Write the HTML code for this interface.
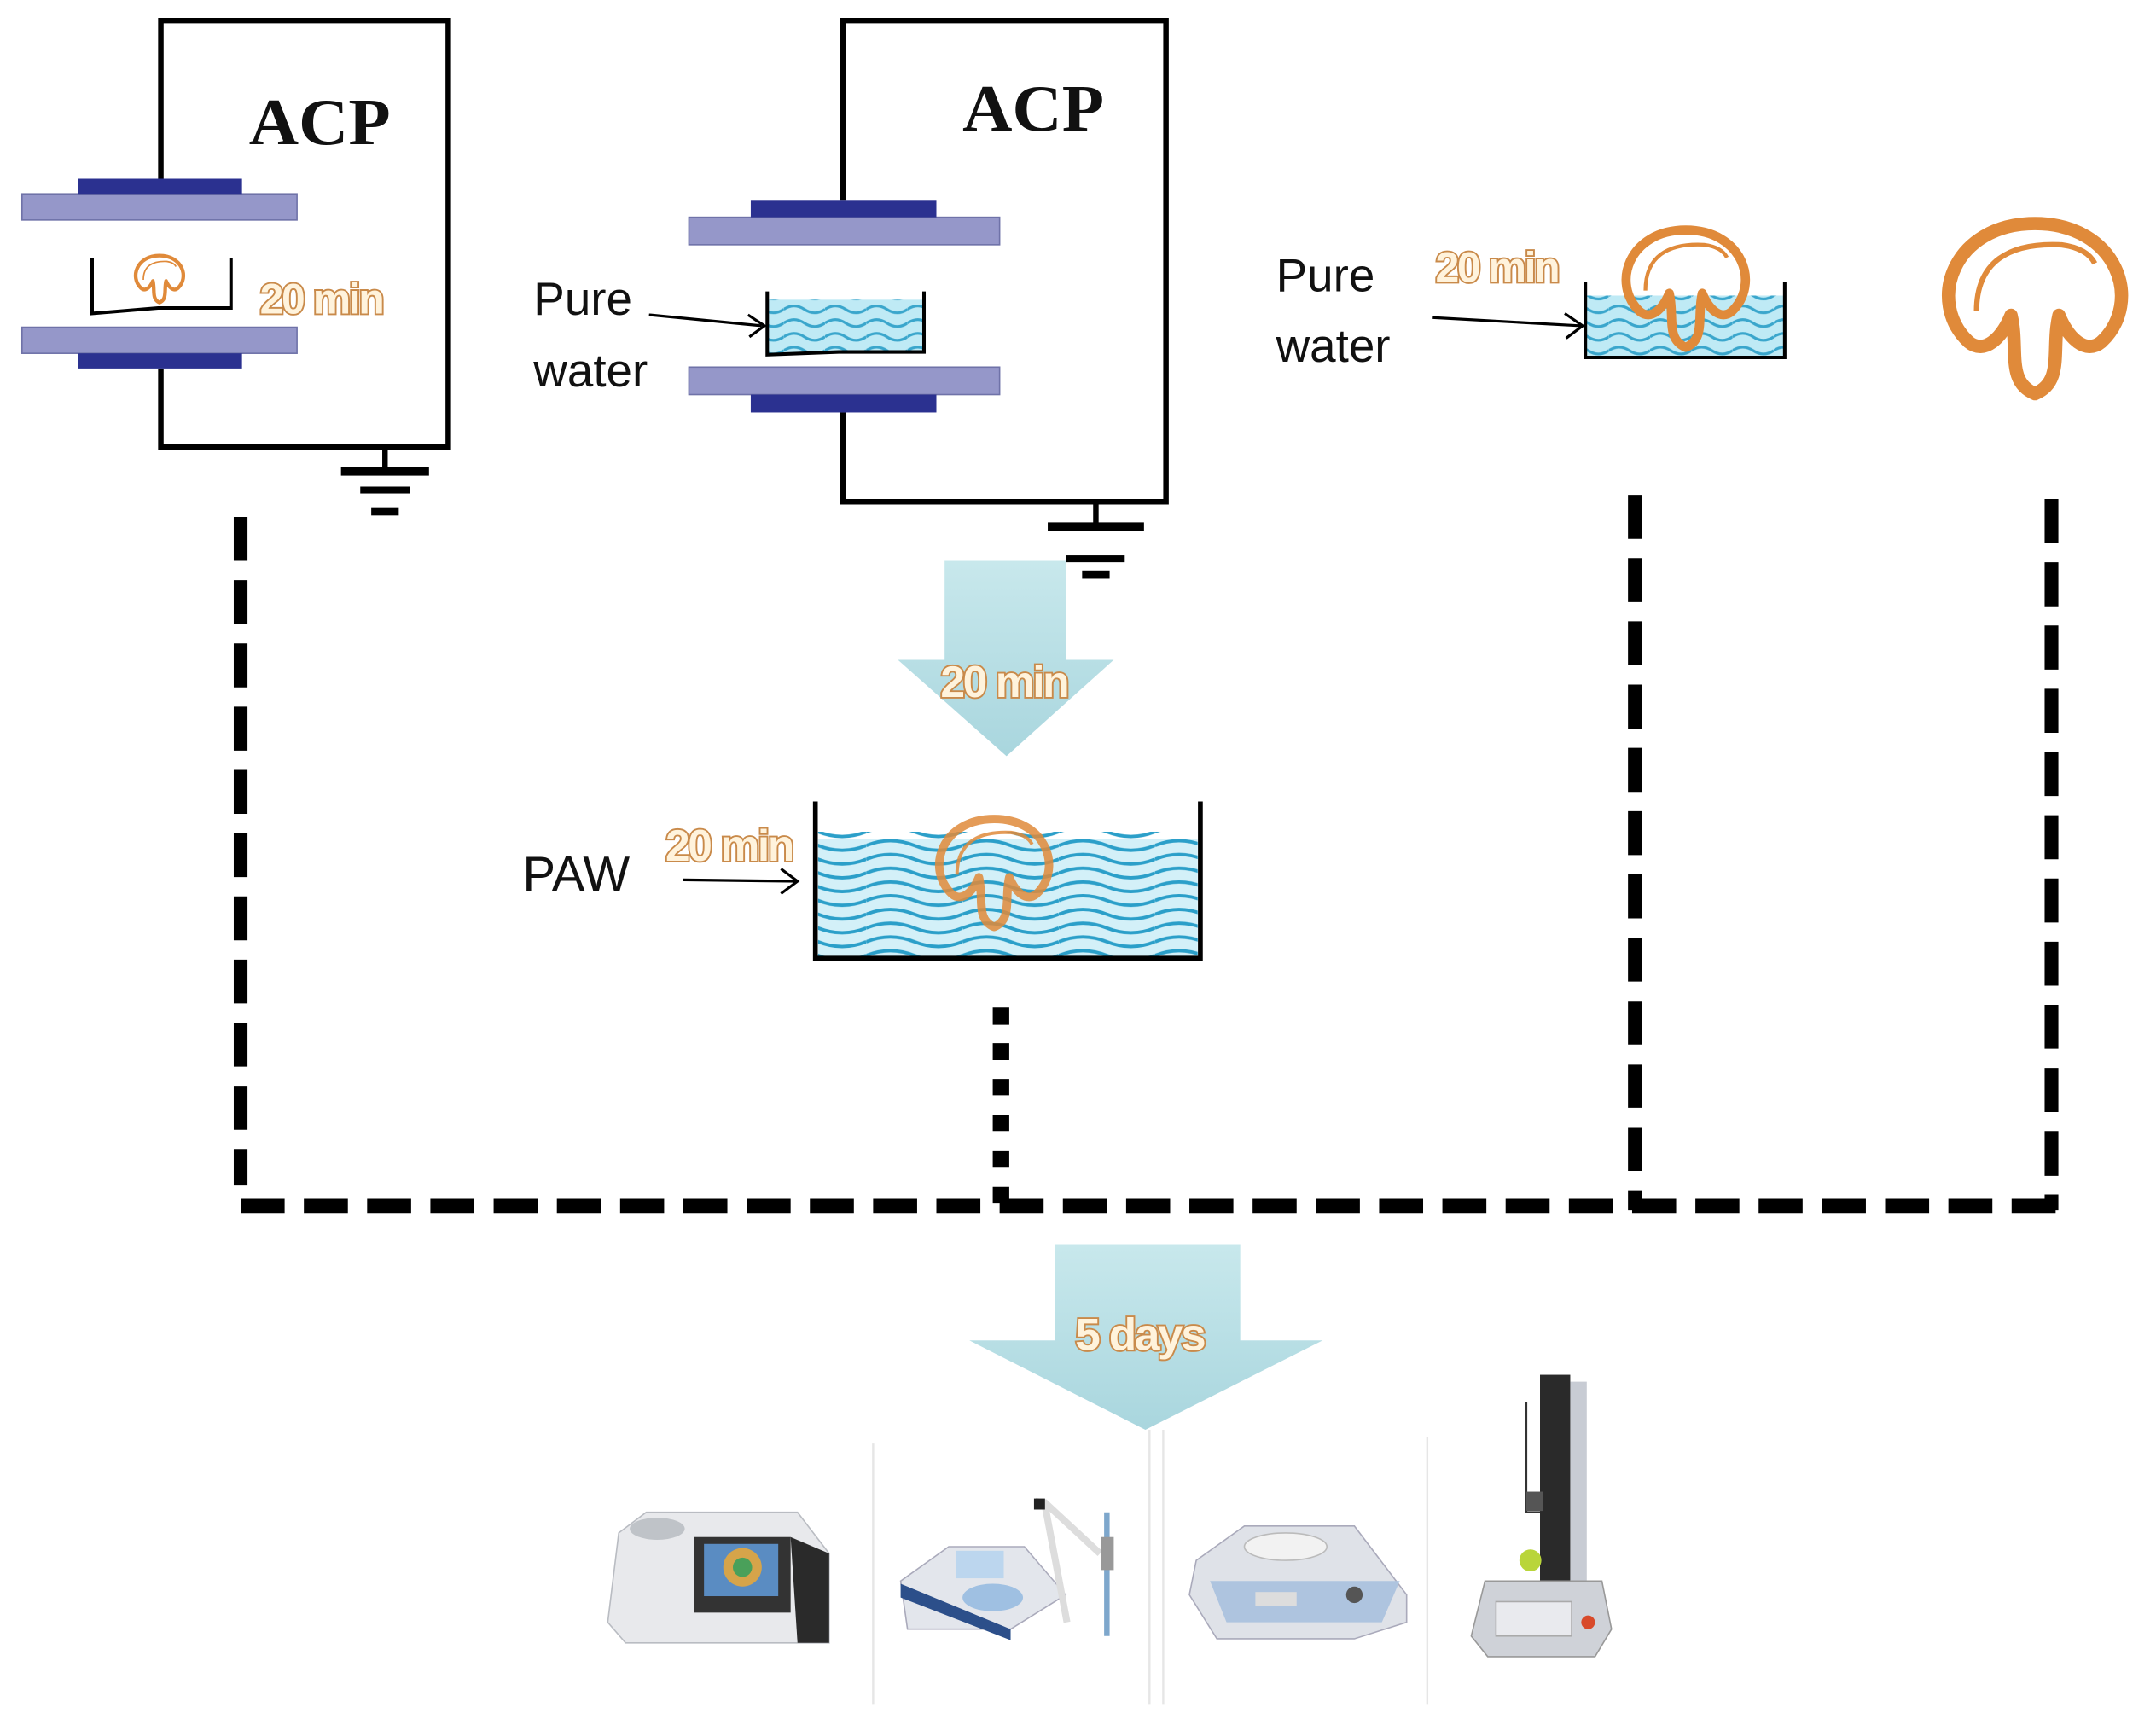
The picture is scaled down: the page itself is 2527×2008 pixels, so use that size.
<!DOCTYPE html>
<html><head><meta charset="utf-8"><style>
html,body{margin:0;padding:0;background:#fff}
svg{display:block}
.lbl{font-family:"Liberation Sans",sans-serif;fill:#111}
.acp{font-family:"Liberation Serif",serif;fill:#111;font-weight:bold}
.tm{font-family:"Liberation Sans",sans-serif;font-weight:bold;fill:#fff3dc;stroke:#c98a4a;stroke-width:2.4;paint-order:stroke;letter-spacing:-1.5px}
</style></head><body>
<svg width="2527" height="2008" viewBox="0 0 1568 1246" preserveAspectRatio="none" xmlns="http://www.w3.org/2000/svg">
<defs>
<symbol id="mush" viewBox="-75 -75 150 150" overflow="visible">
<path d="M -50,25 C -82,-5 -62,-64 0,-64 C 62,-64 82,-5 50,25 C 38,35 25,22 18,5 C 12,30 22,55 0,64 C -22,55 -12,30 -18,5 C -25,22 -38,35 -50,25 Z" fill="none" stroke="#e08a3a" stroke-width="10" stroke-linejoin="round"/>
<path d="M -44,2 C -44,-35 -20,-50 20,-48 C 35,-46 42,-40 45,-34" fill="none" stroke="#e08a3a" stroke-width="4"/>
</symbol>
<pattern id="wv" width="30" height="10" patternUnits="userSpaceOnUse">
<path d="M0,5 Q7.5,0 15,5 T30,5" fill="none" stroke="#3aa6cc" stroke-width="2"/>
</pattern>
<pattern id="wv2" width="70" height="10" patternUnits="userSpaceOnUse">
<path d="M0,5 Q17.5,-2 35,5 T70,5" fill="none" stroke="#2b9fc9" stroke-width="2.4"/>
</pattern>
<linearGradient id="ag" x1="0" y1="0" x2="0" y2="1">
<stop offset="0" stop-color="#c8e8ec"/><stop offset="1" stop-color="#a9d6de"/>
</linearGradient>
</defs>

<!-- Left ACP -->
<path d="M117,132 V15 H326 V325 H117 V268" fill="none" stroke="#000" stroke-width="4"/>
<rect x="16" y="141" width="200" height="19" fill="#9597c9" stroke="#6f72a8" stroke-width="1"/>
<rect x="57" y="130" width="119" height="11" fill="#2b3190"/>
<rect x="16" y="238" width="200" height="19" fill="#9597c9" stroke="#6f72a8" stroke-width="1"/>
<rect x="57" y="257" width="119" height="11" fill="#2b3190"/>
<path d="M67,188 V228 L115,224 H168 V188" fill="none" stroke="#000" stroke-width="2.5"/>
<use href="#mush" x="96" y="181" width="40" height="44"/>
<text class="tm" x="189" y="228" font-size="31">20 min</text>
<text class="acp" x="181" y="105" font-size="48" textLength="103" lengthAdjust="spacingAndGlyphs">ACP</text>
<path d="M280,325 V343" stroke="#000" stroke-width="4"/>
<rect x="248" y="340" width="64" height="6" fill="#000"/>
<rect x="262" y="354" width="36" height="5" fill="#000"/>
<rect x="270" y="369" width="20" height="6" fill="#000"/>

<!-- Middle ACP -->
<path d="M613,146 V15 H848 V365 H613 V300" fill="none" stroke="#000" stroke-width="4"/>
<rect x="501" y="158" width="226" height="20" fill="#9597c9" stroke="#6f72a8" stroke-width="1"/>
<rect x="546" y="146" width="135" height="12" fill="#2b3190"/>
<rect x="501" y="267" width="226" height="20" fill="#9597c9" stroke="#6f72a8" stroke-width="1"/>
<rect x="546" y="287" width="135" height="13" fill="#2b3190"/>
<rect x="558" y="218" width="114" height="39" fill="#bfeaf5"/>
<rect x="558" y="218" width="114" height="39" fill="url(#wv)"/>
<path d="M558,212 V258 L610,256 H672 V212" fill="none" stroke="#000" stroke-width="2.5"/>
<text class="acp" x="700" y="95" font-size="48" textLength="103" lengthAdjust="spacingAndGlyphs">ACP</text>
<text class="lbl" x="388" y="229" font-size="34">Pure</text>
<text class="lbl" x="388" y="281" font-size="34">water</text>
<path d="M472,229 L554,237" stroke="#000" stroke-width="2"/>
<path d="M544,229 L556,237 L545,245" fill="none" stroke="#000" stroke-width="2"/>
<path d="M797,365 V383" stroke="#000" stroke-width="4"/>
<rect x="762" y="380" width="70" height="6" fill="#000"/>
<rect x="775" y="404" width="43" height="5" fill="#000"/>
<rect x="787" y="415" width="20" height="6" fill="#000"/>

<!-- 20 min arrow -->
<path d="M687,408 H775 V480 H810 L732,550 L653,480 H687 Z" fill="url(#ag)"/>
<text class="tm" x="684" y="507" font-size="32">20 min</text>

<!-- PAW -->
<rect x="595" y="610" width="276" height="86" fill="#d3f0f8"/>
<rect x="595" y="605" width="276" height="91" fill="url(#wv2)"/>
<path d="M593,583 V697 H873 V583" fill="none" stroke="#000" stroke-width="3.5"/>
<use href="#mush" x="677" y="580" width="92" height="110" opacity="0.85"/>
<text class="lbl" x="380" y="648" font-size="36">PAW</text>
<text class="tm" x="484" y="626" font-size="32">20 min</text>
<path d="M497,640 L580,641" stroke="#000" stroke-width="2"/>
<path d="M568,632 L580,641 L568,650" fill="none" stroke="#000" stroke-width="2"/>

<!-- Right pure water -->
<text class="lbl" x="928" y="212" font-size="34">Pure</text>
<text class="lbl" x="928" y="263" font-size="34">water</text>
<path d="M1042,231 L1150,237" stroke="#000" stroke-width="2"/>
<path d="M1138,228 L1151,237 L1139,246" fill="none" stroke="#000" stroke-width="2"/>
<rect x="1154" y="215" width="144" height="44" fill="#bfeaf5"/>
<rect x="1154" y="215" width="144" height="44" fill="url(#wv)"/>
<path d="M1153,205 V260 H1298 V205" fill="none" stroke="#000" stroke-width="2.5"/>
<use href="#mush" x="1176" y="160" width="100" height="100"/>
<text class="tm" x="1044" y="205" font-size="31">20 min</text>
<use href="#mush" x="1400" y="152" width="160" height="145"/>

<!-- Dashed connectors -->
<g stroke="#000" fill="none">
<path d="M175,376 V862" stroke-width="10" stroke-dasharray="32,14"/>
<path d="M1189,360 V880" stroke-width="10" stroke-dasharray="32,14"/>
<path d="M1492,363 V880" stroke-width="10" stroke-dasharray="32,14"/>
<path d="M175,877 H1497" stroke-width="11" stroke-dasharray="32,14"/>
<path d="M728,733 V880" stroke-width="12" stroke-dasharray="12,14"/>
</g>

<!-- 5 days arrow -->
<path d="M767,905 H902 V975 H962 L833,1040 L705,975 H767 Z" fill="url(#ag)"/>
<text class="tm" x="782" y="982" font-size="33">5 days</text>

<!-- separators -->
<g stroke="#e6e6e6" stroke-width="1.5">
<path d="M836,1040 V1240"/><path d="M846,1040 V1240"/><path d="M1038,1045 V1240"/><path d="M635,1050 V1240"/>
</g>

<!-- instruments -->
<g>
<path d="M450,1115 L470,1100 H580 L603,1130 V1195 H455 L442,1180 Z" fill="#e8e9ec" stroke="#b9bcc2"/>
<rect x="505" y="1118" width="70" height="55" fill="#333"/>
<rect x="512" y="1123" width="54" height="38" fill="#5a8cc2"/>
<circle cx="540" cy="1140" r="14" fill="#d6a44a"/>
<circle cx="540" cy="1140" r="7" fill="#4aa05a"/>
<ellipse cx="478" cy="1112" rx="20" ry="8" fill="#bfc3c8"/>
<path d="M575,1118 L603,1130 V1195 H580 Z" fill="#2a2a2a"/>
</g>
<g>
<path d="M655,1150 L690,1125 H745 L775,1160 L735,1185 H660 Z" fill="#e3e6ec" stroke="#aab"/>
<path d="M655,1152 L735,1185 V1193 L655,1162 Z" fill="#2c4f8a"/>
<ellipse cx="722" cy="1162" rx="22" ry="10" fill="#9fc0e2"/>
<rect x="695" y="1128" width="35" height="20" fill="#bcd6ee"/>
<path d="M753,1092 L760,1093 L800,1130" stroke="#ddd" stroke-width="5" fill="none"/>
<path d="M760,1095 L776,1180" stroke="#ddd" stroke-width="5"/>
<rect x="752" y="1090" width="8" height="8" fill="#222"/>
<path d="M805,1100 V1190" stroke="#7ea7cc" stroke-width="4"/>
<rect x="801" y="1118" width="9" height="24" fill="#999"/>
</g>
<g>
<path d="M870,1135 L905,1110 H985 L1023,1160 V1180 L985,1192 H885 L865,1160 Z" fill="#dfe2e8" stroke="#aab"/>
<path d="M880,1150 H1018 L1005,1180 H892 Z" fill="#aec4df"/>
<ellipse cx="935" cy="1125" rx="30" ry="10" fill="#f2f2f2" stroke="#bbb"/>
<rect x="913" y="1158" width="30" height="10" fill="#ddd"/>
<circle cx="985" cy="1160" r="6" fill="#555"/>
</g>
<g>
<rect x="1120" y="1000" width="22" height="160" fill="#2a2a2a"/>
<rect x="1142" y="1005" width="12" height="155" fill="#c8ccd4"/>
<path d="M1110,1020 V1100 H1120" stroke="#333" stroke-width="1.5" fill="none"/>
<rect x="1110" y="1085" width="12" height="14" fill="#555"/>
<circle cx="1113" cy="1135" r="8" fill="#b9d53a"/>
<path d="M1080,1150 H1165 L1172,1185 L1160,1205 H1082 L1070,1190 Z" fill="#cfd2d8" stroke="#999"/>
<rect x="1088" y="1165" width="55" height="25" fill="#e9eaee" stroke="#aaa"/>
<circle cx="1155" cy="1180" r="5" fill="#d84a2a"/>
</g>
</svg>
</body></html>
